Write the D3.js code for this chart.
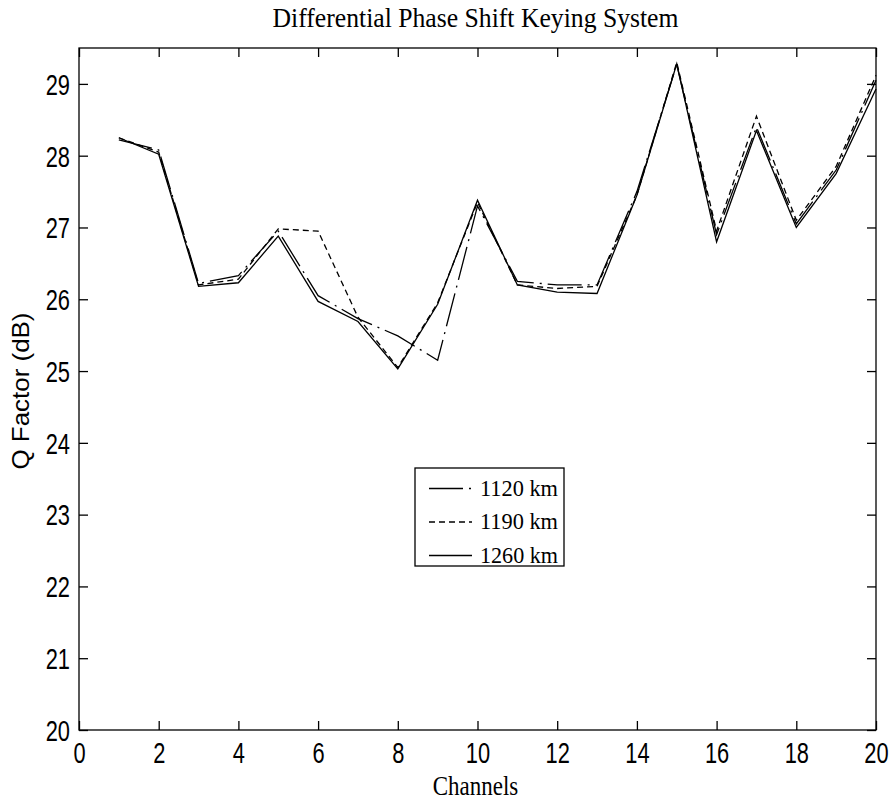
<!DOCTYPE html>
<html>
<head>
<meta charset="utf-8">
<script src="https://cdn.jsdelivr.net/npm/d3@7"></script>
<style>
  html, body { margin: 0; padding: 0; background: #fff; }
  svg { display: block; }
</style>
</head>
<body>
<div id="chart"></div>
<script>
// Q factor per channel for three transmission distances (DPSK system)
const channels = [1, 2, 3, 4, 5, 6, 7, 8, 9, 10, 11, 12, 13, 14, 15, 16, 17, 18, 19, 20];
const q1120 = [28.22, 28.08, 26.22, 26.33, 26.95, 26.05, 25.73, 25.49, 25.15, 27.30,
               26.25, 26.20, 26.20, 27.50, 29.27, 26.90, 28.40, 27.05, 27.80, 29.05];
const q1190 = [28.25, 28.05, 26.20, 26.28, 26.98, 26.95, 25.75, 25.05, 25.95, 27.35,
               26.20, 26.15, 26.18, 27.45, 29.30, 26.95, 28.55, 27.10, 27.85, 29.12];
const q1260 = [28.25, 28.02, 26.18, 26.23, 26.88, 25.97, 25.69, 25.03, 25.93, 27.38,
               26.20, 26.10, 26.08, 27.45, 29.28, 26.80, 28.35, 27.00, 27.75, 28.93];
const seriesNames = ["1120 km", "1190 km", "1260 km"];
const xTicks = [0, 2, 4, 6, 8, 10, 12, 14, 16, 18, 20];
const yTicks = [20, 21, 22, 23, 24, 25, 26, 27, 28, 29];

const W = 892, H = 805;
const margin = { left: 79, right: 16, top: 48, bottom: 75 };
const pw = W - margin.left - margin.right;
const ph = H - margin.top - margin.bottom;

const series = [
  { name: seriesNames[0], values: q1120, dash: "34,6,2,6" },
  { name: seriesNames[1], values: q1190, dash: "6,4" },
  { name: seriesNames[2], values: q1260, dash: null }
];

const svg = d3.select("#chart").append("svg")
  .attr("width", W).attr("height", H);

const x = d3.scaleLinear().domain([0, 20]).range([0, pw]);
const y = d3.scaleLinear().domain([20, 29.5]).range([ph, 0]);

const g = svg.append("g").attr("transform", `translate(${margin.left},${margin.top})`);

const tickLen = 9;
const sansFont = "'Liberation Sans', Arial, sans-serif";
const serifFont = "'Liberation Serif', 'Times New Roman', serif";

// plot frame
g.append("rect").attr("x", 0).attr("y", 0).attr("width", pw).attr("height", ph)
  .attr("fill", "none").attr("stroke", "#000").attr("stroke-width", 1.3);

// axes with inward ticks on all four sides
const xAxisB = d3.axisBottom(x).tickValues(xTicks).tickSizeInner(-tickLen).tickSizeOuter(0).tickFormat(d3.format("d"));
const xAxisT = d3.axisTop(x).tickValues(xTicks).tickSizeInner(-tickLen).tickSizeOuter(0).tickFormat("");
const yAxisL = d3.axisLeft(y).tickValues(yTicks).tickSizeInner(-tickLen).tickSizeOuter(0).tickFormat(d3.format("d"));
const yAxisR = d3.axisRight(y).tickValues(yTicks).tickSizeInner(-tickLen).tickSizeOuter(0).tickFormat("");

function styleAxis(sel) {
  sel.select(".domain").remove();
  sel.selectAll(".tick line").attr("stroke", "#000").attr("stroke-width", 1.3);
}

const gxb = g.append("g").attr("transform", `translate(0,${ph})`).call(xAxisB).call(styleAxis);
gxb.selectAll(".tick text")
  .attr("x", 0).attr("y", 0).attr("dy", "0.716em")
  .attr("transform", "translate(0,12) scale(0.95,1.25)")
  .attr("font-family", sansFont).attr("font-size", 23).attr("fill", "#000")
  .attr("text-anchor", "middle");

g.append("g").call(xAxisT).call(styleAxis).selectAll(".tick text").remove();

const gyl = g.append("g").call(yAxisL).call(styleAxis);
gyl.selectAll(".tick text")
  .attr("x", 0).attr("y", 0).attr("dy", "0.36em")
  .attr("transform", "translate(-9,0) scale(0.95,1.25)")
  .attr("font-family", sansFont).attr("font-size", 23).attr("fill", "#000")
  .attr("text-anchor", "end");

g.append("g").attr("transform", `translate(${pw},0)`).call(yAxisR).call(styleAxis)
  .selectAll(".tick text").remove();

// series lines
const line = d3.line()
  .x((d, i) => x(channels[i]))
  .y(d => y(d));

g.selectAll("path.series").data(series).enter().append("path")
  .attr("class", "series")
  .attr("d", d => line(d.values))
  .attr("fill", "none")
  .attr("stroke", "#000")
  .attr("stroke-width", 1.3)
  .attr("stroke-dasharray", d => d.dash);

// title and axis labels
svg.append("text")
  .attr("transform", `translate(${margin.left + pw / 2 - 2},27) scale(1,1.2)`)
  .attr("text-anchor", "middle")
  .attr("font-family", serifFont).attr("font-size", 23)
  .attr("textLength", 406).attr("lengthAdjust", "spacingAndGlyphs")
  .text("Differential Phase Shift Keying System");

svg.append("text")
  .attr("transform", `translate(${margin.left + pw / 2 - 2},795) scale(1,1.2)`)
  .attr("text-anchor", "middle")
  .attr("font-family", serifFont).attr("font-size", 23)
  .text("Channels");

svg.append("text")
  .attr("transform", `translate(29,${margin.top + ph / 2 + 2}) rotate(-90)`)
  .attr("text-anchor", "middle")
  .attr("font-family", sansFont).attr("font-size", 24)
  .attr("textLength", 157).attr("lengthAdjust", "spacingAndGlyphs")
  .text("Q Factor (dB)");

// legend
const lg = svg.append("g").attr("transform", "translate(415,468)");
lg.append("rect").attr("x", 0).attr("y", 0).attr("width", 149).attr("height", 98)
  .attr("fill", "#fff").attr("stroke", "#000").attr("stroke-width", 1.3);
const rowY = [20.5, 54, 87.5];
const items = lg.selectAll("g.item").data(series).enter().append("g")
  .attr("class", "item")
  .attr("transform", (d, i) => `translate(0,${rowY[i]})`);
items.append("line")
  .attr("x1", 14).attr("x2", 57).attr("y1", 0).attr("y2", 0)
  .attr("stroke", "#000").attr("stroke-width", 1.3)
  .attr("stroke-dasharray", d => d.dash);
items.append("text")
  .attr("x", 65).attr("y", 7)
  .attr("font-family", serifFont).attr("font-size", 22.5)
  .attr("textLength", 78).attr("lengthAdjust", "spacingAndGlyphs")
  .text(d => d.name);
</script>
</body>
</html>
